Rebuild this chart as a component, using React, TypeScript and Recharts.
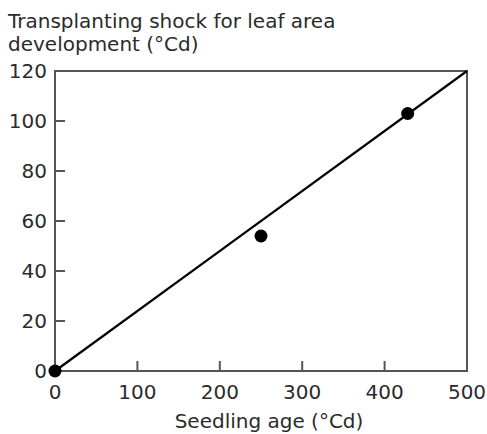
import { ComposedChart, Scatter, Line, XAxis, YAxis, ReferenceArea } from 'recharts';

const xTicks = [0, 100, 200, 300, 400, 500];
const yTicks = [0, 20, 40, 60, 80, 100, 120];

// observed points
const seedlingAge = [0, 250, 428];
const shock = [0, 54, 103];

// fitted line end points
const fitAge = [0, 500];
const fitShock = [0, 120];

const points = seedlingAge.map((x, i) => ({ x, y: shock[i] }));
const fit = fitAge.map((x, i) => ({ x, y: fitShock[i] }));

const font = '"DejaVu Sans", sans-serif';
const textColor = '#2b2b2b';
const frame = '#555';

const XTick = ({ x, y, payload }: any) => (
  <text x={x} y={y} dy="0.71em" textAnchor="middle" fontSize={20} fontFamily={font} fill={textColor}>
    {payload.value}
  </text>
);

const YTick = ({ x, y, payload }: any) => (
  <text x={x} y={y} dy="0.355em" textAnchor="end" fontSize={20} fontFamily={font} fill={textColor}>
    {payload.value}
  </text>
);

export default function App() {
  return (
    <div style={{ position: 'absolute', left: 0, top: 0, width: 487, height: 434, background: '#fff', fontFamily: font }}>
      <div style={{ position: 'absolute', left: 8, top: 10, fontSize: 20, lineHeight: '23px', color: textColor, whiteSpace: 'nowrap' }}>
        Transplanting shock for leaf area
        <br />
        development (°Cd)
      </div>
      <ComposedChart width={487} height={434} margin={{ top: 71, right: 20, bottom: 33, left: 10 }}>
        <ReferenceArea x1={0} x2={500} y1={0} y2={120} fill="none" stroke={frame} strokeWidth={2} ifOverflow="visible" />
        <XAxis
          type="number"
          dataKey="x"
          domain={[0, 500]}
          ticks={xTicks}
          height={30}
          axisLine={false}
          tickSize={-10}
          tickMargin={24}
          tickLine={{ stroke: frame, strokeWidth: 2 }}
          tick={XTick}
          interval={0}
        />
        <YAxis
          type="number"
          dataKey="y"
          domain={[0, 120]}
          ticks={yTicks}
          width={45}
          axisLine={false}
          tickSize={-10}
          tickMargin={18}
          tickLine={{ stroke: frame, strokeWidth: 2 }}
          tick={YTick}
          interval={0}
        />
        <Line data={fit} dataKey="y" type="linear" stroke="#000" strokeWidth={2.2} dot={false} isAnimationActive={false} />
        <Scatter data={points} dataKey="y" fill="#000" shape={(p: any) => <circle cx={p.cx} cy={p.cy} r={6.5} fill="#000" />} isAnimationActive={false} />
      </ComposedChart>
      <div style={{ position: 'absolute', left: 0, width: 538, top: 410, textAlign: 'center', fontSize: 20, lineHeight: '23px', color: textColor }}>
        Seedling age (°Cd)
      </div>
    </div>
  );
}
